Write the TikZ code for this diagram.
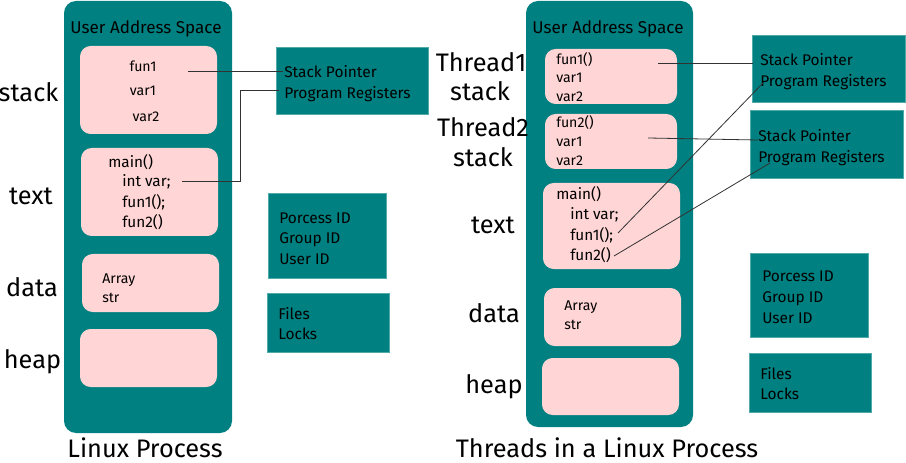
\documentclass[tikz,border=0pt]{standalone}
\usepackage{fontspec}
\setmainfont{Fira Sans}
\definecolor{tealc}{RGB}{0,128,128}
\definecolor{pinkc}{RGB}{255,213,213}
\definecolor{edgec}{RGB}{80,170,170}
\definecolor{linec}{RGB}{50,50,50}
\begin{document}
\begin{tikzpicture}[x=0.75pt,y=-0.75pt,
  outer/.style={fill=tealc, rounded corners=9pt, inner sep=0},
  inner/.style={fill=pinkc, rounded corners=8pt, inner sep=0},
  info/.style={fill=tealc, draw=edgec, line width=0.6pt, inner sep=0},
  biglbl/.style={font=\fontsize{19}{21}\selectfont, inner sep=0, anchor=mid, yshift=-2.6pt},
  headlbl/.style={font=\fontsize{12.8}{14}\selectfont, inner sep=0, anchor=mid, yshift=-1.5pt},
  codetxt/.style={font=\fontsize{11.5}{13}\selectfont, inner sep=0, anchor=mid west, yshift=-1.1pt},
  smalltxt/.style={font=\fontsize{10.6}{12}\selectfont, inner sep=0, anchor=mid west, yshift=-1.1pt},
  centtxt/.style={font=\fontsize{10.6}{12}\selectfont, inner sep=0, anchor=mid, yshift=-1.1pt},
  infotxt/.style={font=\fontsize{11.6}{13}\selectfont, inner sep=0, anchor=mid west, yshift=-1.1pt},
  link/.style={draw=linec, line width=0.6pt}]
\useasboundingbox (0,0) rectangle (906,463);

% ---------- Left: Linux Process ----------
\node[outer, minimum width=126pt, minimum height=324pt] (L) at (148,217) {};
\node[inner, minimum width=102.75pt, minimum height=66pt] (LS) at (148.5,90) {};
\node[inner, minimum width=102.75pt, minimum height=66pt] (LT) at (149.5,192) {};
\node[inner, minimum width=102.75pt, minimum height=43.5pt] (LD) at (150.5,283) {};
\node[inner, minimum width=102.75pt, minimum height=43.5pt] (LH) at (148.5,358) {};
\node[info, minimum width=114pt, minimum height=50.25pt] (LSP) at (352,80.5) {};
\node[info, minimum width=88.5pt, minimum height=63.75pt] (LPID) at (327,235.5) {};
\node[info, minimum width=91.5pt, minimum height=44.25pt] (LF) at (328,322.5) {};

\node[headlbl] (LUAS) at (146,28) {User Address Space};
\node[biglbl] (Lstack) at (28.5,95) {stack};
\node[biglbl] (Ltext) at (31,198) {text};
\node[biglbl] (Ldata) at (32,290) {data};
\node[biglbl] (Lheap) at (32.5,362) {heap};
\node[biglbl] (Ltitle) at (145,451) {Linux Process};

\node[centtxt] (Lfun1) at (143,67) {fun1};
\node[centtxt] (Lvar1) at (143,91) {var1};
\node[centtxt] (Lvar2) at (146,117) {var2};

\node[codetxt] (Lmain) at (108,163) {main()};
\node[codetxt] (Lint) at (122,182) {int var;};
\node[codetxt] (Lf1) at (122,203) {fun1();};
\node[codetxt] (Lf2) at (122,223) {fun2()};

\node[smalltxt] (Larr) at (102,279) {Array};
\node[smalltxt] (Lstr) at (102,298) {str};

\node[infotxt] (LSP1) at (284,73) {Stack Pointer};
\node[infotxt] (LPR1) at (284,94) {Program Registers};
\node[infotxt] (LP1) at (279,219) {Porcess ID};
\node[infotxt] (LP2) at (279,239) {Group ID};
\node[infotxt] (LP3) at (279,260) {User ID};
\node[infotxt] (LF1) at (278,315) {Files};
\node[infotxt] (LF2) at (278,335) {Locks};

\coordinate (la1) at (188,71);
\coordinate (la2) at (283,71);
\coordinate (lb1) at (182,181);
\coordinate (lb2) at (240,90);
\coordinate (lb3) at (279,90);
\draw[link] (la1) -- (la2);
\draw[link] (lb1) -| (lb2) -- (lb3);

% ---------- Right: Threads ----------
\node[outer, minimum width=125.25pt, minimum height=319.5pt] (R) at (609.5,214) {};
\node[inner, minimum width=99pt, minimum height=41.25pt] (RT1) at (611,76.5) {};
\node[inner, minimum width=99pt, minimum height=41.25pt] (RT2) at (611,141.5) {};
\node[inner, minimum width=102.75pt, minimum height=64.5pt] (RT) at (611.5,226) {};
\node[inner, minimum width=102.75pt, minimum height=43.5pt] (RD) at (612.5,317) {};
\node[inner, minimum width=102.75pt, minimum height=42.75pt] (RH) at (610.5,386.5) {};
\node[info, minimum width=114.75pt, minimum height=50.25pt] (RSP1) at (828.5,68.5) {};
\node[info, minimum width=114.75pt, minimum height=51pt] (RSP2) at (826.5,144) {};
\node[info, minimum width=88.5pt, minimum height=63pt] (RPID) at (809,295) {};
\node[info, minimum width=91.5pt, minimum height=44.25pt] (RF) at (810,382.5) {};

\node[headlbl] (RUAS) at (608,28) {User Address Space};
\node[biglbl] (Rth1) at (481,65) {Thread1};
\node[biglbl] (Rst1) at (480,94) {stack};
\node[biglbl] (Rth2) at (483,130) {Thread2};
\node[biglbl] (Rst2) at (483,160) {stack};
\node[biglbl] (Rtext) at (493,227) {text};
\node[biglbl] (Rdata) at (494,316) {data};
\node[biglbl] (Rheap) at (494,387) {heap};
\node[biglbl] (Rtitle) at (607,451) {Threads in a Linux Process};

\node[smalltxt] (Ra1) at (556,60) {fun1()};
\node[smalltxt] (Ra2) at (556,78) {var1};
\node[smalltxt] (Ra3) at (556,97) {var2};
\node[smalltxt] (Rb1) at (556,123) {fun2()};
\node[smalltxt] (Rb2) at (556,142) {var1};
\node[smalltxt] (Rb3) at (556,161) {var2};

\node[codetxt] (Rmain) at (556,195) {main()};
\node[codetxt] (Rint) at (570,215) {int var;};
\node[codetxt] (Rf1) at (570,236) {fun1();};
\node[codetxt] (Rf2) at (570,256) {fun2()};

\node[smalltxt] (Rarr) at (564,306) {Array};
\node[smalltxt] (Rstr) at (564,325) {str};

\node[infotxt] (RS1a) at (760,61) {Stack Pointer};
\node[infotxt] (RS1b) at (760,82) {Program Registers};
\node[infotxt] (RS2a) at (758,137) {Stack Pointer};
\node[infotxt] (RS2b) at (758,158) {Program Registers};
\node[infotxt] (RP1) at (762,277) {Porcess ID};
\node[infotxt] (RP2) at (762,298) {Group ID};
\node[infotxt] (RP3) at (762,319) {User ID};
\node[infotxt] (RF1) at (760,375) {Files};
\node[infotxt] (RF2) at (760,395) {Locks};

\coordinate (ra1) at (658,63);
\coordinate (ra2) at (753,63);
\coordinate (rb1) at (648,138);
\coordinate (rb2) at (758,140);
\coordinate (rc1) at (618,233);
\coordinate (rc2) at (763,83);
\coordinate (rd1) at (614,256);
\coordinate (rd2) at (770,163);
\draw[link] (ra1) -- (ra2);
\draw[link] (rb1) -- (rb2);
\draw[link] (rc1) -- (rc2);
\draw[link] (rd1) -- (rd2);
\end{tikzpicture}
\end{document}
